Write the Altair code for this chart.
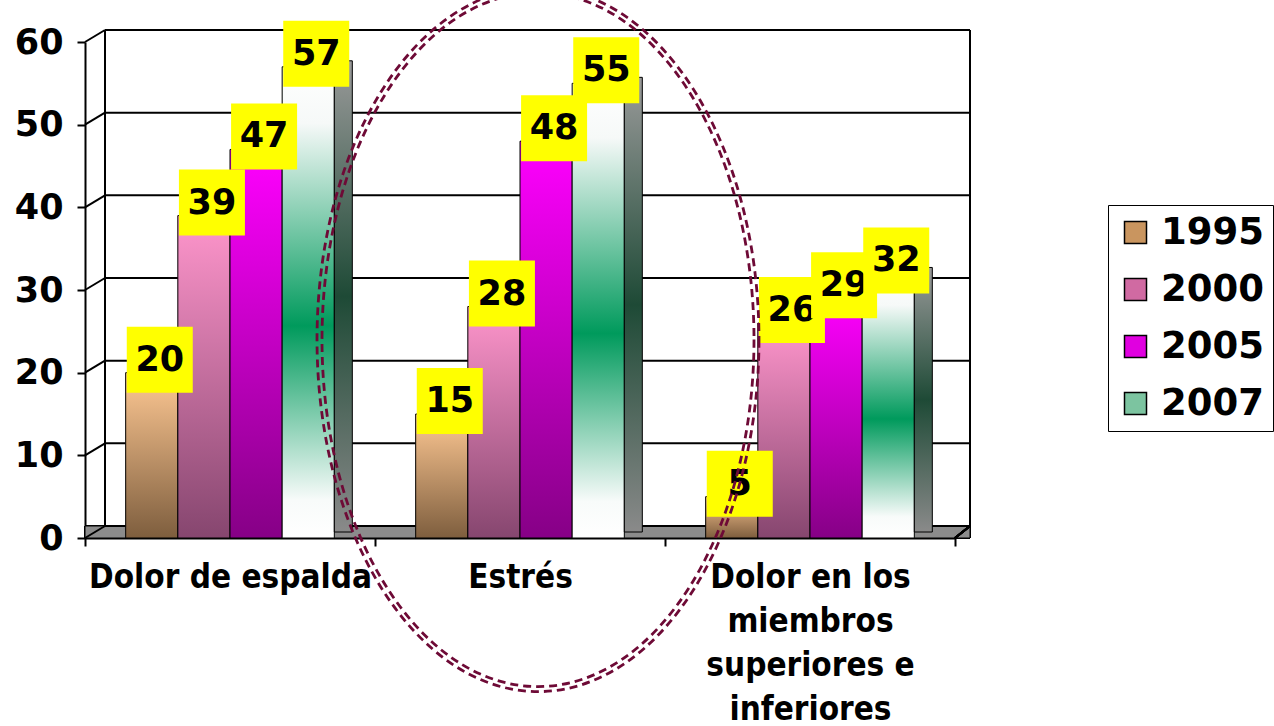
import altair as alt
import pandas as pd

# ---------------- data ----------------
categories = ["Dolor de espalda", "Estrés", "Dolor en los miembros superiores e inferiores"]
years = ["1995", "2000", "2005", "2007"]
v1995 = [20, 15, 5]
v2000 = [39, 28, 26]
v2005 = [47, 48, 29]
v2007 = [57, 55, 32]
y_ticks = [0, 10, 20, 30, 40, 50, 60]
legend_colors = ["#c9955f", "#d06aa2", "#e000e0", "#7cc4a0"]

rows = []
for yr, vals in zip(years, [v1995, v2000, v2005, v2007]):
    for c, v in zip(categories, vals):
        rows.append({"cat": c, "year": yr, "value": v})
df = pd.DataFrame(rows)
ticks_df = pd.DataFrame({"t": y_ticks})
ellipse_df = pd.DataFrame({"cat": ["Estrés"], "t": [24]})

# ---------------- layout ----------------
FONT_C = "DejaVu Sans Condensed"
FONT = "DejaVu Sans"
W, H = 870, 496
PAD_L, PAD_T = 85, 42
PAD_R = 1274 - PAD_L - W
PAD_B = 726 - PAD_T - H
DX, DY = 15, 12  # 3D depth shift
STEP = W / 3
P_OUT = 0.78
SUB = STEP / (4 + 2 * P_OUT)  # sub-bar width

xs = alt.Scale(domain=categories, paddingInner=0, paddingOuter=0)
ys = alt.Scale(domain=[0, 60], nice=False, zero=True)
xo = alt.Scale(domain=years, paddingInner=0, paddingOuter=P_OUT)

x_axis = alt.Axis(
    title=None, labelAngle=0, labelFont=FONT_C, labelFontSize=33, labelFontWeight="bold",
    labelColor="black", labelLimit=500, labelLineHeight=44, labelPadding=15,
    tickBand="extent", tickSize=8, tickColor="black", tickWidth=2,
    domainColor="black", domainWidth=2, labelBaseline="top",
    labelExpr="datum.value == 'Dolor en los miembros superiores e inferiores' ? "
              "['Dolor en los', 'miembros', 'superiores e', 'inferiores'] : datum.label",
)
y_axis = alt.Axis(
    title=None, values=y_ticks, labelFont=FONT, labelFontSize=35, labelFontWeight="bold",
    labelColor="black", labelPadding=14, tickSize=8, tickColor="black", tickWidth=2,
    domainColor="black", domainWidth=2, grid=False,
)


def X():
    return alt.X("cat:N", scale=xs, sort=categories, axis=x_axis)


def Y(field):
    return alt.Y(field, scale=ys, axis=y_axis)


XO = alt.XOffset("year:N", scale=xo, sort=years)


def vgrad(stops):
    return alt.LinearGradient(
        gradient="linear", x1=0, x2=0, y1=0, y2=1,
        stops=[alt.GradientStop(offset=o, color=c) for o, c in stops],
    )


grads = [
    vgrad([(0, "#ffc994"), (1, "#7e5e3e")]),
    vgrad([(0, "#ff96cc"), (1, "#86466f")]),
    vgrad([(0, "#ff00ff"), (1, "#860086")]),
    vgrad([(0, "#ffffff"), (0.12, "#f6f9f8"), (0.55, "#009a5c"), (0.92, "#f8fbfa"), (1, "#ffffff")]),
]
side_grad = vgrad([(0, "#9a9a9a"), (0.5, "#1e4a36"), (1, "#8a8a8a")])

layers = []

# floor
layers.append(
    alt.Chart(ticks_df).mark_rect(fill="#8c8c8c", stroke="black", strokeWidth=1, y2Offset=-DY)
    .encode(x=alt.value(0), x2=alt.value(W + DX), y=alt.datum(0, scale=ys), y2=alt.datum(0))
)
# back-wall gridlines
layers.append(
    alt.Chart(ticks_df).mark_rule(color="black", strokeWidth=2, yOffset=-DY)
    .encode(y=Y("t:Q"), x=alt.value(20), x2=alt.value(W + DX))
)
# connectors from axis to wall
layers.append(
    alt.Chart(ticks_df).mark_rule(color="black", strokeWidth=2, y2Offset=-DY)
    .encode(y=Y("t:Q"), y2=alt.Y2("t"), x=alt.value(0), x2=alt.value(20))
)
# wall verticals
for xv in [20, W + DX]:
    layers.append(
        alt.Chart(ticks_df).mark_rule(color="black", strokeWidth=2, yOffset=-DY, y2Offset=-DY)
        .encode(y=alt.datum(60), y2=alt.datum(0), x=alt.value(xv))
    )
# bottom-right diagonal
layers.append(
    alt.Chart(ticks_df).mark_rule(color="black", strokeWidth=2, y2Offset=-DY)
    .encode(y=alt.datum(0), y2=alt.datum(0), x=alt.value(W), x2=alt.value(W + DX))
)

# solid bars (legend source)
layers.append(
    alt.Chart(df).mark_bar().encode(
        x=X(), xOffset=XO, y=Y("value:Q"),
        color=alt.Color(
            "year:N", scale=alt.Scale(domain=years, range=legend_colors),
            legend=alt.Legend(
                title=None, orient="none", legendX=1108 - PAD_L, legendY=205 - PAD_T,
                labelFont=FONT, labelFontSize=37, labelFontWeight="bold", labelColor="black",
                symbolType="square", symbolSize=484, symbolStrokeColor="black",
                symbolStrokeWidth=1.5, symbolOpacity=1, strokeColor="black", fillColor="white",
                padding=9, rowPadding=19, labelOffset=7,
            ),
        ),
    )
)

# gradient bars
for yr, g in zip(years, grads):
    layers.append(
        alt.Chart(df[df.year == yr]).mark_bar(fill=g, stroke="black", strokeWidth=1)
        .encode(x=X(), xOffset=XO, y=Y("value:Q"))
    )
# side face of the last series
layers.append(
    alt.Chart(df[df.year == "2007"]).mark_bar(
        fill=side_grad, stroke="black", strokeWidth=1, width=DX + 3,
        xOffset=2 * SUB + (DX + 3) / 2, yOffset=-6, y2Offset=-6,
    ).encode(x=X(), y=Y("value:Q"))
)

# value labels
for i, yr in enumerate(years):
    sub = df[df.year == yr]
    off = (i - 1.5) * SUB + 8
    layers.append(
        alt.Chart(sub).mark_square(size=4356, color="#ffff00", opacity=1, xOffset=off, yOffset=-13)
        .encode(x=X(), y=Y("value:Q"))
    )
    layers.append(
        alt.Chart(sub).mark_text(
            font=FONT, fontSize=35, fontWeight="bold", color="black",
            xOffset=off, yOffset=-13, baseline="middle", align="center",
        ).encode(x=X(), y=Y("value:Q"), text="value:Q")
    )

# dashed double ellipse annotation


def ellipse_path(a):
    k = 0.5523
    return (f"M {a} 0 C {a} {k}, {a*k} 1, 0 1 C {-a*k} 1, {-a} {k}, {-a} 0 "
            f"C {-a} {-k}, {-a*k} -1, 0 -1 C {a*k} -1, {a} {-k}, {a} 0 Z")


for hw, hh in [(221, 352), (216, 347)]:
    layers.append(
        alt.Chart(ellipse_df).mark_point(
            shape=ellipse_path(round(hw / hh, 4)), size=(2 * hh) ** 2, filled=False,
            color="#6e0a36", strokeWidth=2.8, strokeDash=[8, 5], opacity=1, xOffset=18,
        ).encode(x=X(), y=Y("t:Q"))
    )

chart = (
    alt.layer(*layers)
    .properties(
        width=W, height=H,
        autosize=alt.AutoSizeParams(type="none"),
        padding={"left": PAD_L, "top": PAD_T, "right": PAD_R, "bottom": PAD_B},
        background="white",
    )
    .configure_view(strokeWidth=0)
)

chart.save("out.html", embed_options={"renderer": "svg", "actions": False})
